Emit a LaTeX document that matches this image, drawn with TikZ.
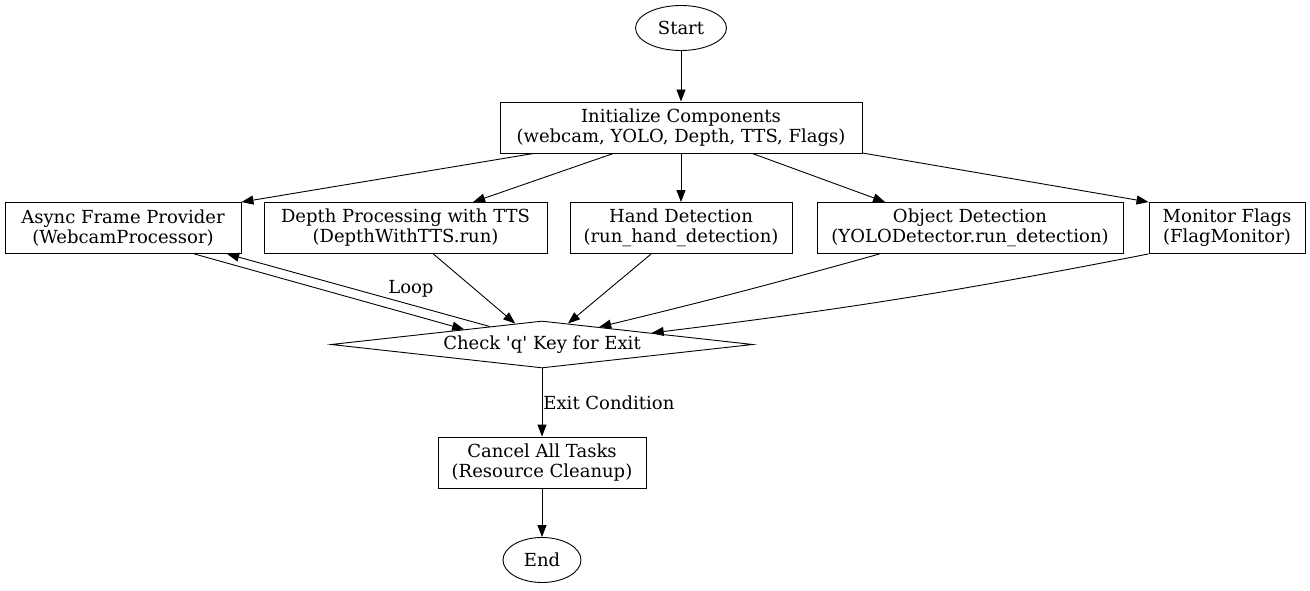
\documentclass[tikz,border=0pt]{standalone}
\usepackage{fontspec}
\setmainfont{DejaVu Serif}
\usetikzlibrary{arrows.meta,shapes.geometric,calc}

\tikzset{
  procbox/.style = {draw, rectangle, align = center, minimum height = 51pt, inner sep = 2pt},
  termnode/.style = {draw, ellipse, minimum width = 91pt, minimum height = 45pt, inner sep = 0pt},
  decide/.style = {draw, diamond, aspect = 9, minimum width = 422pt, minimum height = 47pt, inner sep = 1pt},
  flow/.style = {draw, -{Triangle[length = 12pt, width = 9pt]}},
}

\begin{document}
\begin{tikzpicture}[x = 1pt, y = -1pt, font = \fontsize{18}{20}\selectfont, line width = 0.9pt]
\useasboundingbox (0,0) rectangle (1310,591);
% start and setup
\node[termnode](start)at(681,28){Start};
\node[procbox, minimum width = 362pt](init)at(681,127.5){Initialize Components\\(webcam, YOLO, Depth, TTS, Flags)};
% worker row
\node[procbox, minimum width = 236pt](async)at(123,228){Async Frame Provider\\(WebcamProcessor)};
\node[procbox, minimum width = 283pt](depth)at(405.5,228){Depth Processing with TTS\\(DepthWithTTS.run)};
\node[procbox, minimum width = 222pt](hand)at(681,228){Hand Detection\\(run\_hand\_detection)};
\node[procbox, minimum width = 306pt](object)at(970,228){Object Detection\\(YOLODetector.run\_detection)};
\node[procbox, minimum width = 156pt](monitor)at(1227,228){Monitor Flags\\(FlagMonitor)};
% decision
\node[decide](check)at(542,344.5){Check \textquotesingle q\textquotesingle{} Key for Exit};
% shutdown
\node[procbox, minimum width = 208pt](cancel)at(542,462.5){Cancel All Tasks\\(Resource Cleanup)};
\node[termnode, minimum width = 78pt](finish)at(542,560){End};
% fan out
\path[flow](start)to(init);
\path[flow](init.-170)to(async.north east);
\path[flow](init.-159)to(depth.21);
\path[flow](init)to(hand);
\path[flow](init.-20)to(object.163);
\path[flow](init.-8)to(monitor.north west);
% fan in
\path[flow](async.-20)to(check.169);
\path[flow](check.161)to node[pos = 0.3, above = 4pt]{Loop}(async.-14);
\path[flow](depth.-43)to(check.142);
\path[flow](hand.-139)to(check.39);
\path[flow](object.-164)[bend left = 1] to (check.17);
\path[flow](monitor.south west)[bend left = 2] to (check.6);
% exit
\path[flow](check)to node[right, midway, inner sep = 1pt]{Exit Condition}(cancel);
\path[flow](cancel)to(finish);
\end{tikzpicture}
\end{document}
